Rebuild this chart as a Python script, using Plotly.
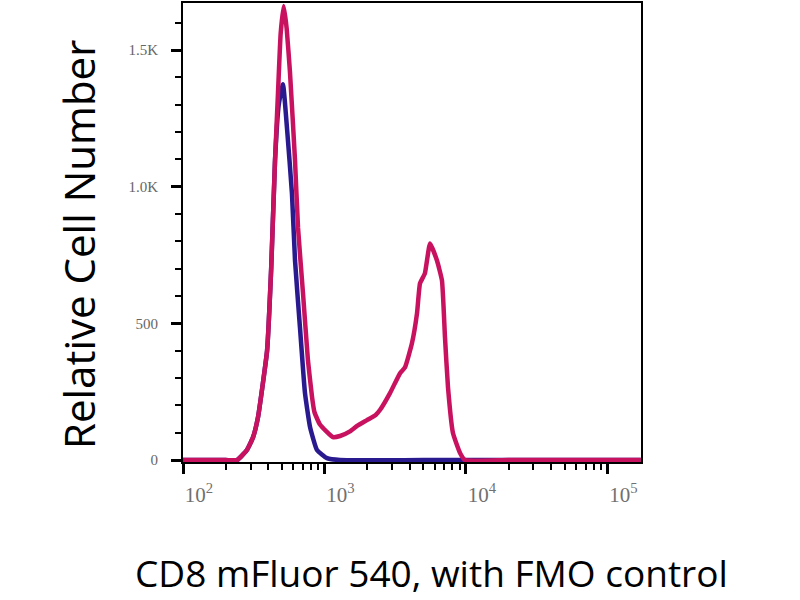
import plotly.graph_objects as go

# CD8 mFluor 540 stained sample (pink)
cd8_x = [100, 200, 241, 283, 313, 339, 367, 393, 420, 447, 469, 490, 515, 540, 570, 619, 650,
         705, 764, 817, 850, 929, 1148, 1288, 1514, 1700, 1995, 2300, 2466, 2904, 3420, 3707,
         4150, 4508, 4732, 5124, 5572, 6237, 6766, 7107, 7464, 8091, 9078, 9840, 20000, 172000]
cd8_y = [0, 0, 0, 37, 84, 157, 281, 401, 700, 1095, 1340, 1560, 1661, 1580, 1420, 1095, 850,
         610, 365, 230, 175, 130, 84, 88, 105, 125, 146, 165, 183, 245, 318, 339,
         427, 537, 646, 683, 792, 730, 657, 449, 266, 99, 26, 0, 0, 0]

# FMO control (blue)
fmo_x = [100, 200, 241, 283, 313, 339, 367, 393, 420, 447, 475, 509, 543, 589, 619, 671,
         728, 791, 885, 1042, 1288, 5000, 172000]
fmo_y = [0, 0, 0, 37, 84, 157, 281, 401, 700, 1095, 1300, 1375, 1215, 975, 730, 485,
         245, 120, 37, 7, 0, 0, 0]

x_tickvals = [100, 1000, 10000, 100000]
x_ticktext = ["10<sup>2</sup>", "10<sup>3</sup>", "10<sup>4</sup>", "10<sup>5</sup>"]
x_minor = [m * d for d in (100, 1000, 10000) for m in range(2, 10)]
y_tickvals = [0, 500, 1000, 1500]
y_ticktext = ["0", "500", "1.0K", "1.5K"]

x_title = "CD8 mFluor 540, with FMO control"
y_title = "Relative Cell Number"

fig = go.Figure()
fig.add_trace(go.Scatter(x=fmo_x, y=fmo_y, mode="lines",
                         line=dict(color="#2A1A90", width=4.5, shape="spline", smoothing=0.4),
                         showlegend=False))
fig.add_trace(go.Scatter(x=cd8_x, y=cd8_y, mode="lines",
                         line=dict(color="#C8125F", width=4.5, shape="spline", smoothing=0.4),
                         showlegend=False))

PW = 800 - 183 - 159
PH = 600 - 3 - 138

fig.update_layout(
    width=800, height=600,
    margin=dict(l=183, r=159, t=3, b=138, autoexpand=False),
    paper_bgcolor="white", plot_bgcolor="white",
    xaxis=dict(type="log", range=[2, 5.237], showgrid=False, zeroline=False, automargin=False,
               showline=True, linecolor="black", linewidth=2, mirror=True,
               tickmode="array", tickvals=x_tickvals, ticktext=x_ticktext,
               ticks="outside", ticklen=10, tickwidth=3, tickcolor="black",
               tickfont=dict(family="Liberation Serif", size=21, color="#707070"),
               ticklabelshift=16, ticklabelstandoff=3,
               minor=dict(tickmode="array", tickvals=x_minor, ticks="outside",
                          ticklen=6, tickwidth=2, tickcolor="black", showgrid=False)),
    yaxis=dict(range=[-7, 1672], showgrid=False, zeroline=False, automargin=False,
               showline=True, linecolor="black", linewidth=2, mirror=True,
               tickmode="array", tickvals=y_tickvals, ticktext=y_ticktext,
               ticks="outside", ticklen=10, tickwidth=3, tickcolor="black",
               tickfont=dict(family="Liberation Serif", size=15, color="#666666"),
               ticklabelstandoff=10,
               minor=dict(dtick=100, ticks="outside", ticklen=6, tickwidth=2,
                          tickcolor="black", showgrid=False)),
    annotations=[
        dict(text=x_title, xref="paper", yref="paper", x=(431 - 183) / PW, y=(462 - 572) / PH,
             showarrow=False, xanchor="center", yanchor="middle",
             font=dict(family="Open Sans", size=37, color="black")),
        dict(text=y_title, xref="paper", yref="paper", x=(78 - 183) / PW, y=(462 - 245) / PH,
             showarrow=False, xanchor="center", yanchor="middle", textangle=-90,
             font=dict(family="Open Sans", size=42, color="black")),
    ],
)

fig.write_html("out.html", config={"displayModeBar": False},
               post_script="document.body.style.margin='0';")
